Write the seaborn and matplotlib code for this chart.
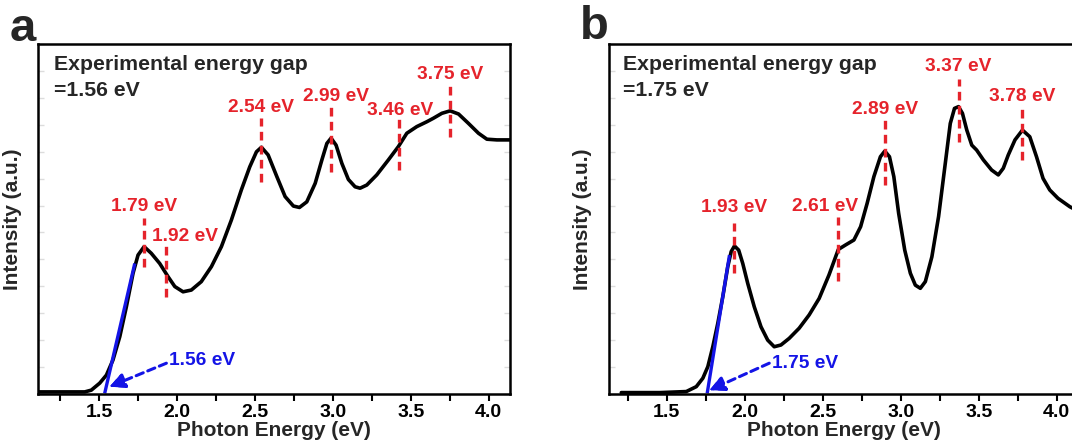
import matplotlib
matplotlib.use('Agg')
import matplotlib.pyplot as plt
from matplotlib.ticker import MultipleLocator
import numpy as np
import seaborn as sns

# ===== 数据：面板 a 吸收谱 =====
energy_a = [1.107, 1.407, 1.449, 1.503, 1.546, 1.588, 1.632, 1.674, 1.717, 1.749,
            1.788, 1.834, 1.888, 1.942, 1.985, 2.038, 2.091, 2.155, 2.220, 2.284,
            2.348, 2.412, 2.466, 2.509, 2.541, 2.584, 2.640, 2.693, 2.746, 2.785,
            2.832, 2.886, 2.929, 2.961, 2.988, 3.020, 3.057, 3.099, 3.142, 3.174,
            3.217, 3.281, 3.356, 3.420, 3.474, 3.538, 3.603, 3.645, 3.699, 3.752,
            3.806, 3.870, 3.934, 3.988, 4.052, 4.133]
intensity_a = [0.006, 0.006, 0.011, 0.031, 0.054, 0.097, 0.164, 0.249, 0.345, 0.397,
               0.421, 0.402, 0.373, 0.335, 0.307, 0.292, 0.297, 0.321, 0.364, 0.421,
               0.497, 0.583, 0.649, 0.692, 0.705, 0.683, 0.621, 0.564, 0.537, 0.533,
               0.549, 0.602, 0.669, 0.716, 0.731, 0.711, 0.659, 0.613, 0.592, 0.588,
               0.597, 0.626, 0.669, 0.707, 0.745, 0.764, 0.778, 0.788, 0.802, 0.809,
               0.800, 0.773, 0.745, 0.728, 0.726, 0.726]

# ===== 数据：面板 b 吸收谱 =====
energy_b = [1.208, 1.455, 1.625, 1.689, 1.731, 1.763, 1.795, 1.827, 1.859, 1.891,
            1.913, 1.934, 1.961, 1.987, 2.019, 2.061, 2.104, 2.147, 2.189, 2.232,
            2.285, 2.349, 2.413, 2.477, 2.540, 2.600, 2.647, 2.700, 2.743, 2.785,
            2.828, 2.870, 2.898, 2.928, 2.956, 2.987, 3.026, 3.062, 3.094, 3.126,
            3.158, 3.200, 3.243, 3.286, 3.318, 3.345, 3.371, 3.396, 3.424, 3.456,
            3.487, 3.530, 3.583, 3.626, 3.658, 3.690, 3.733, 3.781, 3.828, 3.871,
            3.913, 3.956, 4.009, 4.085, 4.15]
intensity_b = [0.004, 0.004, 0.007, 0.021, 0.045, 0.078, 0.135, 0.202, 0.278, 0.364,
               0.407, 0.423, 0.411, 0.373, 0.316, 0.249, 0.192, 0.154, 0.135, 0.140,
               0.159, 0.188, 0.226, 0.273, 0.340, 0.413, 0.426, 0.440, 0.478, 0.545,
               0.621, 0.678, 0.694, 0.678, 0.621, 0.516, 0.411, 0.345, 0.311, 0.302,
               0.321, 0.392, 0.507, 0.659, 0.773, 0.816, 0.821, 0.802, 0.754, 0.711,
               0.697, 0.669, 0.640, 0.626, 0.645, 0.683, 0.726, 0.754, 0.735, 0.678,
               0.616, 0.583, 0.559, 0.535, 0.52]

# 峰位标注：虚线位置、上下端、标签文字与标签中心
peak_x_a = [1.788, 1.931, 2.541, 2.988, 3.426, 3.752]
peak_ymin_a = [0.364, 0.278, 0.607, 0.635, 0.640, 0.735]
peak_ymax_a = [0.502, 0.426, 0.789, 0.821, 0.792, 0.879]
peak_text_a = ['1.79 eV', '1.92 eV', '2.54 eV', '2.99 eV', '3.46 eV', '3.75 eV']
peak_tx_a = [1.788, 2.053, 2.541, 3.022, 3.431, 3.752]
peak_ty_a = [0.535, 0.451, 0.819, 0.851, 0.809, 0.913]

peak_x_b = [1.934, 2.600, 2.898, 3.371, 3.781]
peak_ymin_b = [0.346, 0.324, 0.597, 0.721, 0.669]
peak_ymax_b = [0.488, 0.505, 0.783, 0.900, 0.816]
peak_text_b = ['1.93 eV', '2.61 eV', '2.89 eV', '3.37 eV', '3.78 eV']
peak_tx_b = [1.934, 2.517, 2.898, 3.371, 3.777]
peak_ty_b = [0.533, 0.535, 0.813, 0.936, 0.851]

# 带隙切线与箭头
tangent_a = ([1.535, 1.728], [0.002, 0.373])
tangent_b = ([1.759, 1.902], [0.002, 0.397])
gap_text = ['1.56 eV', '1.75 eV']
arrow_tip = [(1.567, 0.021), (1.774, 0.011)]
arrow_tail = [(1.931, 0.088), (2.157, 0.088)]
gap_label_xy = [(1.950, 0.095), (2.176, 0.088)]
exp_text = ['=1.56 eV', '=1.75 eV']
exp_x = [1.207, 1.219]
xlims = [(1.107, 4.133), (1.126, 4.15)]
letters = ['a', 'b']

sns.set_theme(style='ticks')
plt.rcParams['font.family'] = ['Liberation Sans', 'DejaVu Sans']
plt.rcParams['font.weight'] = 'bold'
plt.rcParams['axes.labelweight'] = 'bold'

RED = '#e5232b'
BLUE = '#1414e6'

W, H = 1072, 447
fig = plt.figure(figsize=(W / 100, H / 100), dpi=100)
ax_a = fig.add_axes([38 / W, (H - 394) / H, 471.5 / W, 350 / H])
ax_b = fig.add_axes([608.5 / W, (H - 394) / H, 471.5 / W, 350 / H])

panels = [
    (ax_a, energy_a, intensity_a, peak_x_a, peak_ymin_a, peak_ymax_a, peak_text_a, peak_tx_a, peak_ty_a, tangent_a),
    (ax_b, energy_b, intensity_b, peak_x_b, peak_ymin_b, peak_ymax_b, peak_text_b, peak_tx_b, peak_ty_b, tangent_b),
]

for i, (ax, ex, iy, px, pmin, pmax, ptxt, ptx, pty, tan) in enumerate(panels):
    sns.lineplot(x=ex, y=iy, ax=ax, color='black', linewidth=2.6)
    ax.lines[-1].set_solid_joinstyle('round')
    ax.lines[-1].set_solid_capstyle('round')
    ax.plot(tan[0], tan[1], color=BLUE, lw=2.4, solid_capstyle='butt')
    ax.vlines(px, pmin, pmax, colors=RED, linestyles=(0, (2.6, 1.6)), lw=2.4)
    for t, tx, ty in zip(ptxt, ptx, pty):
        ax.text(tx, ty, t, color=RED, fontsize=13.8, fontweight='bold', ha='center', va='center')

    # 带隙箭头（虚线 + 实心箭头）
    tip, tail = arrow_tip[i], arrow_tail[i]
    ax.annotate('', xy=tip, xytext=tail,
                arrowprops=dict(arrowstyle='-|>', color=BLUE, lw=2.2, linestyle=(0, (2.5, 1.6)),
                                mutation_scale=22, shrinkA=0, shrinkB=0))
    ax.annotate('', xy=tip, xytext=(tip[0] + 0.05 * (tail[0] - tip[0]), tip[1] + 0.05 * (tail[1] - tip[1])),
                arrowprops=dict(arrowstyle='-|>', color=BLUE, lw=1.5, mutation_scale=22, shrinkA=0, shrinkB=0))
    gx, gy = gap_label_xy[i]
    ax.text(gx, gy, gap_text[i], color=BLUE, fontsize=13.8, fontweight='bold', ha='left', va='center')

    ax.text(exp_x[i], 0.940, 'Experimental energy gap', fontsize=15.3, fontweight='bold', va='center')
    ax.text(exp_x[i], 0.868, exp_text[i], fontsize=15.3, fontweight='bold', va='center')

    ax.set_xlim(*xlims[i])
    ax.set_ylim(0, 1)
    ax.xaxis.set_major_locator(MultipleLocator(0.5))
    ax.xaxis.set_minor_locator(MultipleLocator(0.25))
    ax.set_yticks(np.linspace(0, 1, 14))
    ax.tick_params(axis='x', which='both', direction='out', length=5, width=1.5,
                   labelsize=14, pad=2, colors='black')
    ax.tick_params(axis='y', which='both', direction='in', length=4, width=1,
                   color='#dcdcdc', left=True, right=True, labelleft=False)
    for lab in ax.get_xticklabels():
        lab.set_fontweight('bold')
    for sp in ax.spines.values():
        sp.set_linewidth(1.8)
        sp.set_color('black')
    ax.set_xlabel('Photon Energy (eV)', fontsize=15, fontweight='bold', labelpad=0)
    ax.set_ylabel('Intensity (a.u.)', fontsize=15, fontweight='bold')
    ax.yaxis.set_label_coords(-0.034, 0.5)

fig.text(10 / W, 1 - 29 / H, letters[0], fontsize=34, fontweight='bold', va='center')
fig.text(580 / W, 1 - 27 / H, letters[1], fontsize=34, fontweight='bold', va='center')

fig.savefig('out.png', dpi=100)
